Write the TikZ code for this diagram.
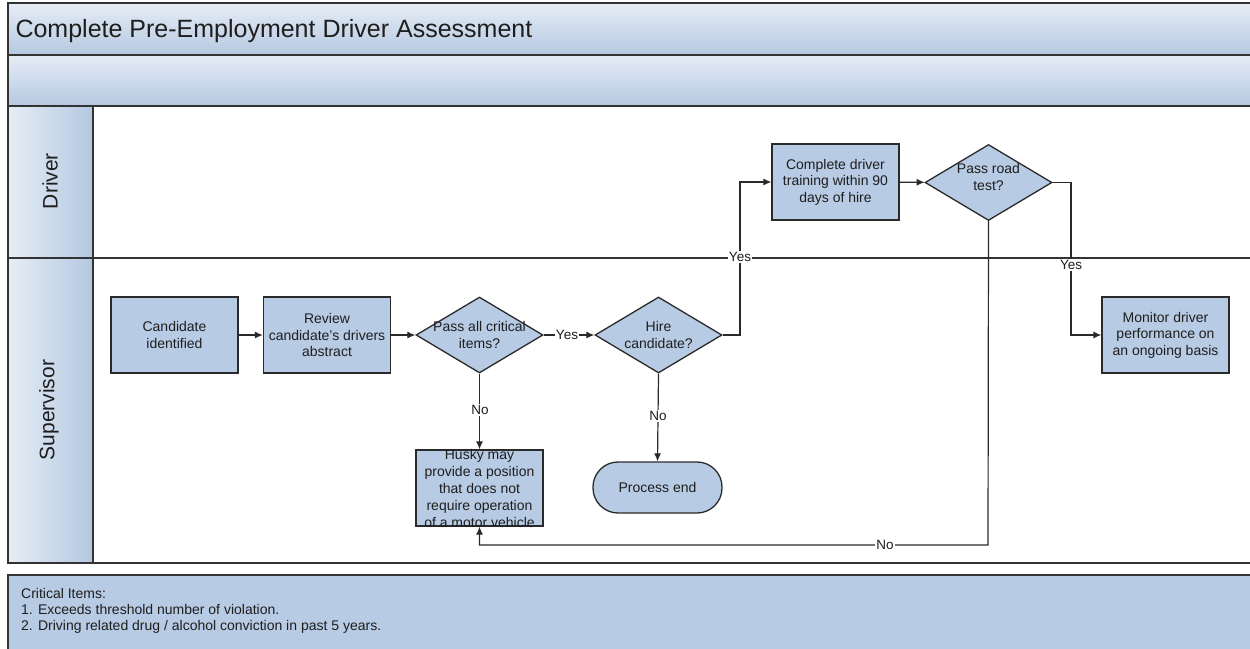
\documentclass[tikz,border=0pt]{standalone}
\usepackage{fontspec}
\setmainfont{Liberation Sans}
\usetikzlibrary{shapes.geometric,arrows.meta,calc}
\definecolor{boxfill}{HTML}{B8CBE4}
\definecolor{hdrlight}{HTML}{E6EDF6}
\definecolor{hdrdark}{HTML}{B5C8E1}
\definecolor{linec}{HTML}{2A2A2A}
\definecolor{framec}{HTML}{333333}
\definecolor{txt}{HTML}{1E1E1E}
\begin{document}
\begin{tikzpicture}[x=1pt,y=-1pt,
  box/.style={draw=linec,line width=1.3pt,fill=boxfill,minimum width=127pt,minimum height=76pt,inner sep=0pt,align=center,font=\fontsize{14}{16.5}\selectfont,text=txt},
  dia/.style={diamond,draw=linec,line width=1.3pt,fill=boxfill,minimum width=127pt,minimum height=76pt,inner sep=0pt},
  term/.style={draw=linec,line width=1.3pt,fill=boxfill,minimum width=129pt,minimum height=51pt,rounded corners=25pt,inner sep=0pt,align=center,font=\fontsize{14}{16.5}\selectfont,text=txt},
  conn/.style={draw=linec,line width=1.2pt,-{Latex[length=8pt,width=7pt]}},
  lbl/.style={fill=white,inner sep=1pt,font=\fontsize{13.5}{15}\selectfont,text=txt},
  intext/.style={align=center,font=\fontsize{14}{17}\selectfont,text=txt,inner sep=0pt},
  lanelbl/.style={rotate=90,font=\fontsize{21}{24}\selectfont,text=txt},
  frameline/.style={draw=framec,line width=1.5pt}
]
\useasboundingbox (0,0) rectangle (1250,648);
\fill[white] (0,0) rectangle (1250,648);
\begin{scope}
\clip (0,0) rectangle (1250,648);
% title bands
\shade[top color=hdrlight,bottom color=hdrdark] (8,3) rectangle (1262,55);
\shade[top color=hdrlight,bottom color=hdrdark] (8,55) rectangle (1262,106);
% lane headers
\shade[left color=hdrlight,right color=hdrdark] (8,106) rectangle (93,258);
\shade[left color=hdrlight,right color=hdrdark] (8,258) rectangle (93,563);
% notes box
\fill[boxfill] (8,575) rectangle (1262,660);
\draw[draw=framec,line width=1.2pt] (1262,575) -- (8,575) -- (8,660);
% frame lines
\draw[frameline] (1262,3) -- (8,3) -- (8,563) -- (1262,563);
\draw[frameline] (8,55) -- (1262,55);
\draw[frameline] (8,106) -- (1262,106);
\draw[frameline] (8,258) -- (1262,258);
\draw[frameline] (93,106) -- (93,563);
\end{scope}

\node[anchor=base west,font=\fontsize{25}{28}\selectfont,text=txt] (title) at (12,37) {Complete Pre-Employment Driver Assessment};
\node[lanelbl] (ldriver) at (50,181) {Driver};
\node[lanelbl] (lsup) at (49,410) {Supervisor};
\node[anchor=north west,align=left,inner sep=0pt,font=\fontsize{14}{16}\selectfont,text=txt] (notes) at (21,588) {Critical Items:\\1. Exceeds threshold number of violation.\\2. Driving related drug / alcohol conviction in past 5 years.};

% nodes
\node[box] (cand) at (174.5,335) {Candidate\\identified};
\node[box] (rev) at (327,335) {Review\\candidate's drivers\\abstract};
\node[dia] (d1) at (479.5,335) {};
\node[intext] (d1t) at (d1.center) {Pass all critical\\items?};
\node[dia] (hire) at (658.5,335) {};
\node[intext] (hiret) at (hire.center) {Hire\\candidate?};
\node[box] (husky) at (479.5,488) {};
\node[intext] (huskyt) at (husky.center) {Husky may\\provide a position\\that does not\\require operation\\of a motor vehicle};
\node[term] (pend) at (657.5,487.5) {Process end};
\node[box] (train) at (835.5,182) {Complete driver\\training within 90\\days of hire};
\node[dia] (road) at (988.5,182.5) {};
\node[intext] (roadt) at ($(road.center)+(0,-6)$) {Pass road\\test?};
\node[box] (mon) at (1165.5,335) {Monitor driver\\performance on\\an ongoing basis};

% coordinates for bends
\coordinate (c1) at (740,335);
\coordinate (c2) at (1071,182.5);
\coordinate (c3) at (988,545);

% connectors
\draw[conn] (cand) -- (rev);
\draw[conn] (rev) -- (d1);
\draw[conn] (d1.east) -- (hire.west);
\draw[conn] (hire.east) -- (c1) |- (train.west);
\draw[conn] (train) -- (road);
\draw[conn] (road.east) -- (c2) |- (mon.west);
\draw[conn] (road.south) -- (c3) -| (husky.south);
\draw[conn] (d1.south) -- (husky.north);
\draw[conn] (hire.south) -- (pend.north);

% connector labels
\node[lbl] (y1) at (567,335) {Yes};
\node[lbl] (y2) at (740,257) {Yes};
\node[lbl] (y3) at (1071,265) {Yes};
\node[lbl] (n1) at (480,410) {No};
\node[lbl] (n2) at (658,416) {No};
\node[lbl] (n3) at (885,545) {No};
\end{tikzpicture}
\end{document}
